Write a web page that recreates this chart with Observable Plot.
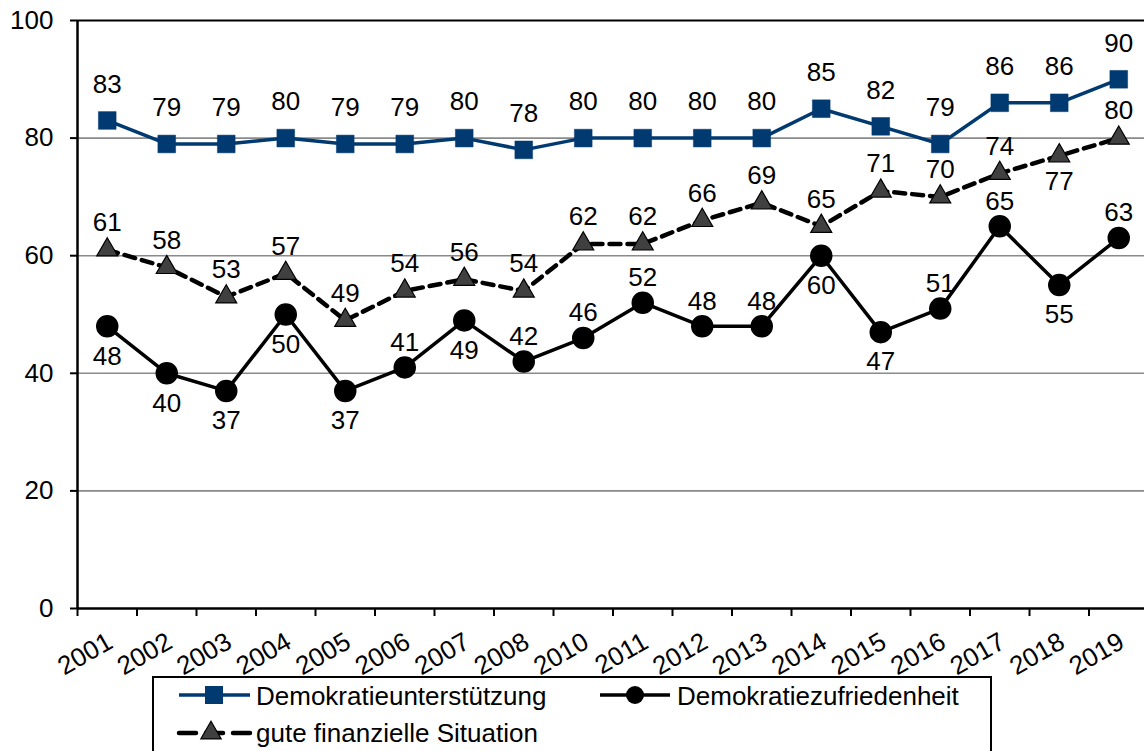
<!DOCTYPE html>
<html>
<head>
<meta charset="utf-8">
<script src="https://cdn.jsdelivr.net/npm/d3@7"></script>
<script src="https://cdn.jsdelivr.net/npm/@observablehq/plot@0.6"></script>
<style>
  html, body { margin: 0; padding: 0; background: #fff; overflow: hidden; }
  body { width: 1144px; height: 751px; position: relative; font-family: "Liberation Sans", Arial, sans-serif; }
  #chart { position: absolute; left: 0; top: 0; }
  #legend { position: absolute; left: 152px; top: 676px; width: 840px; height: 90px; border: 2px solid #000; box-sizing: border-box; background: #fff; }
  #legend svg { position: absolute; left: -2px; top: -2px; }
</style>
</head>
<body>
<div id="chart"></div>
<div id="legend"></div>
<script>
const years = ["2001","2002","2003","2004","2005","2006","2007","2008","2010","2011","2012","2013","2014","2015","2016","2017","2018","2019"];
const unterstuetzung = [83,79,79,80,79,79,80,78,80,80,80,80,85,82,79,86,86,90];
const finanziell = [61,58,53,57,49,54,56,54,62,62,66,69,65,71,70,74,77,80];
const zufriedenheit = [48,40,37,50,37,41,49,42,46,52,48,48,60,47,51,65,55,63];
// label placement: years whose value label sits below the point
const finBelow = ["2018"];
const zufBelow = ["2001","2002","2003","2004","2005","2007","2014","2015","2018"];
const yTicks = [0,20,40,60,80,100];
const seriesNames = ["Demokratieunterstützung","Demokratiezufriedenheit","gute finanzielle Situation"];

const blue = "#003A70";
const font = "'Liberation Sans', Arial, sans-serif";
const FS = 26;

const rows = (vals, below) => years.map((y, i) => ({i, year: y, v: vals[i], below: below.includes(y)}));
const U = rows(unterstuetzung, []);
const F = rows(finanziell, finBelow);
const Z = rows(zufriedenheit, zufBelow);

const chart = Plot.plot({
  width: 1144,
  height: 676,
  marginTop: 20,
  marginBottom: 68,
  marginLeft: 77,
  marginRight: 0,
  style: {fontFamily: font, fontSize: FS + "px", color: "#000", background: "#fff", overflow: "visible"},
  x: {type: "linear", domain: [-0.5, 17.5], range: [77, 1148], axis: null},
  y: {domain: [0, 100], range: [608, 20], axis: null},
  marks: [
    Plot.ruleY([20, 40, 60, 80], {stroke: "#8a8a8a", strokeWidth: 1.6}),
    Plot.ruleY([100], {stroke: "#000", strokeWidth: 2}),
    Plot.axisY({ticks: yTicks, tickSize: 7, tickPadding: 17, fontSize: FS, stroke: "#000", strokeWidth: 2, label: null, tickFormat: d => d}),
    Plot.ruleX([-0.5], {y1: 0, y2: 100, stroke: "#000", strokeWidth: 2.5}),
    Plot.ruleY([0], {stroke: "#000", strokeWidth: 2.5}),
    Plot.axisX({ticks: d3.range(-0.5, 18, 1), tickSize: 8, tickFormat: () => "", stroke: "#000", strokeWidth: 2, label: null}),
    Plot.text(years, {x: (d, i) => i, y: 0, text: d => d, rotate: -30, textAnchor: "end", lineAnchor: "middle", dy: 31, dx: 3, fontSize: FS, fill: "#000"}),
    // lines
    Plot.line(U, {x: "i", y: "v", stroke: blue, strokeWidth: 3.5}),
    Plot.line(Z, {x: "i", y: "v", stroke: "#000", strokeWidth: 3.5}),
    Plot.line(F, {x: "i", y: "v", stroke: "#000", strokeWidth: 4.5, strokeDasharray: "11,7"}),
    // markers
    Plot.dot(U, {x: "i", y: "v", symbol: "square", r: 10, fill: blue, stroke: blue, strokeWidth: 0.5}),
    Plot.dot(Z, {x: "i", y: "v", symbol: "circle", r: 10.5, fill: "#000", stroke: "#000"}),
    Plot.dot(F, {x: "i", y: "v", symbol: "triangle", r: 7.8, fill: "#404040", stroke: "#000", strokeWidth: 1.2}),
    // value labels
    Plot.text(U, {x: "i", y: "v", text: "v", dy: -36, fontSize: FS, fill: "#000"}),
    Plot.text(F.filter(d => !d.below), {x: "i", y: "v", text: "v", dy: -27, fontSize: FS, fill: "#000"}),
    Plot.text(F.filter(d => d.below), {x: "i", y: "v", text: "v", dy: 26, fontSize: FS, fill: "#000"}),
    Plot.text(Z.filter(d => !d.below), {x: "i", y: "v", text: "v", dy: -25, fontSize: FS, fill: "#000"}),
    Plot.text(Z.filter(d => d.below), {x: "i", y: "v", text: "v", dy: 30, fontSize: FS, fill: "#000"})
  ]
});
document.getElementById("chart").appendChild(chart);

// legend
const lg = d3.select("#legend").append("svg").attr("width", 842).attr("height", 92)
  .style("font-family", font).style("font-size", FS + "px");
// entry 1
lg.append("line").attr("x1", 27).attr("x2", 98).attr("y1", 19).attr("y2", 19).attr("stroke", blue).attr("stroke-width", 3.5);
lg.append("rect").attr("x", 62 - 9).attr("y", 19 - 9).attr("width", 18).attr("height", 18).attr("fill", blue);
lg.append("text").attr("x", 104).attr("y", 29).text(seriesNames[0]);
// entry 2
lg.append("line").attr("x1", 448).attr("x2", 518).attr("y1", 19).attr("y2", 19).attr("stroke", "#000").attr("stroke-width", 3.5);
lg.append("circle").attr("cx", 483).attr("cy", 19).attr("r", 9).attr("fill", "#000");
lg.append("text").attr("x", 525).attr("y", 29).text(seriesNames[1]);
// entry 3
lg.append("line").attr("x1", 27).attr("x2", 98).attr("y1", 57).attr("y2", 57).attr("stroke", "#000").attr("stroke-width", 4.5).attr("stroke-dasharray", "17,10,0,0").attr("stroke-linecap", "round");
lg.append("path").attr("d", d3.symbol(d3.symbolTriangle, 180)()).attr("transform", "translate(59,57)").attr("fill", "#404040").attr("stroke", "#000").attr("stroke-width", 1.2);
lg.append("text").attr("x", 104).attr("y", 66).text(seriesNames[2]);
</script>
</body>
</html>
